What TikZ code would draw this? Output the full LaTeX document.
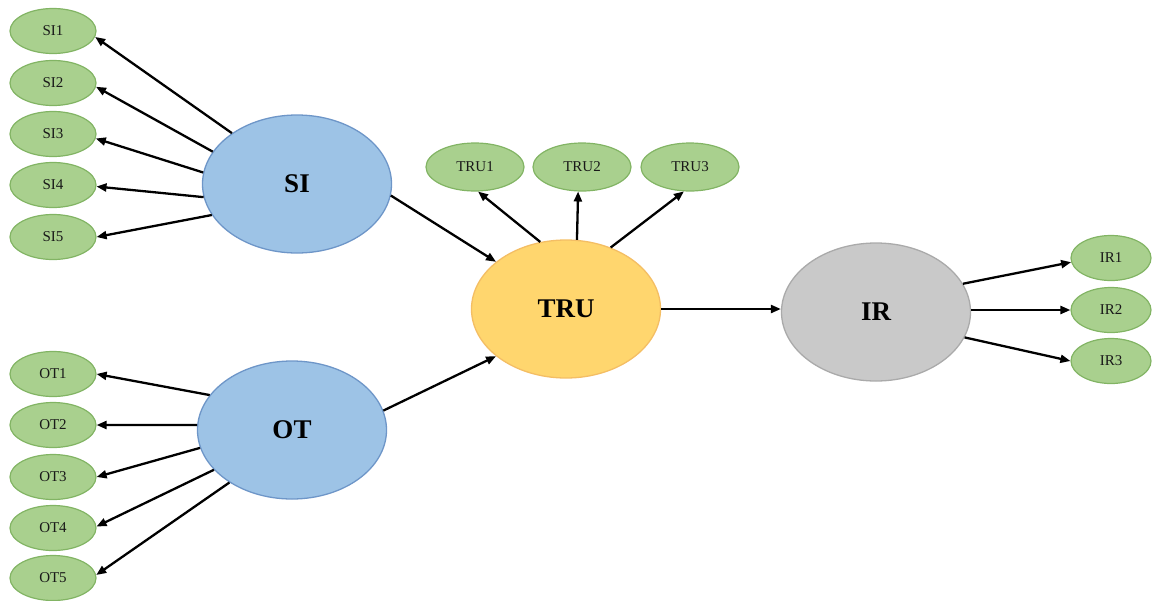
\documentclass[tikz,border=0pt]{standalone}
\usepackage{fontspec}
\setmainfont{Liberation Serif}
\usetikzlibrary{shapes.geometric,arrows.meta}
\definecolor{grfill}{RGB}{169,208,142}
\definecolor{grline}{RGB}{130,180,100}
\definecolor{blfill}{RGB}{157,195,230}
\definecolor{blline}{RGB}{110,150,200}
\definecolor{yefill}{RGB}{255,214,110}
\definecolor{yeline}{RGB}{244,190,100}
\definecolor{gyfill}{RGB}{201,201,201}
\definecolor{gyline}{RGB}{170,170,170}
\tikzset{
  item/.style={ellipse, draw=grline, fill=grfill, line width=1.2pt, inner sep=0pt,
    minimum width=86pt, minimum height=45pt, font=\fontsize{15}{15}\selectfont, text=black!90},
  latent/.style={ellipse, line width=1.3pt, inner sep=0pt,
    minimum width=189pt, minimum height=138pt, font=\fontsize{27}{27}\selectfont\bfseries},
  conn/.style={line width=2.3pt, -{Triangle[length=10pt,width=8pt]}}
}
\begin{document}
\begin{tikzpicture}[x=1pt,y=-1pt]
\useasboundingbox (0,0) rectangle (1153,600);
% latent constructs
\node[latent, draw=blline, fill=blfill] (SI) at (297,184) {SI};
\node[latent, draw=blline, fill=blfill] (OT) at (292,430) {OT};
\node[latent, draw=yeline, fill=yefill] (TRU) at (566,309) {TRU};
\node[latent, draw=gyline, fill=gyfill] (IR) at (876,312) {IR};
% SI indicators
\node[item] (SI1) at (53,31) {SI1};
\node[item] (SI2) at (53,83) {SI2};
\node[item] (SI3) at (53,134) {SI3};
\node[item] (SI4) at (53,185) {SI4};
\node[item] (SI5) at (53,237) {SI5};
% OT indicators
\node[item] (OT1) at (53,374) {OT1};
\node[item] (OT2) at (53,425) {OT2};
\node[item] (OT3) at (53,477) {OT3};
\node[item] (OT4) at (53,528) {OT4};
\node[item] (OT5) at (53,578) {OT5};
% TRU indicators
\node[item, minimum width=98pt, minimum height=48pt] (TRU1) at (475,167) {TRU1};
\node[item, minimum width=98pt, minimum height=48pt] (TRU2) at (582,167) {TRU2};
\node[item, minimum width=98pt, minimum height=48pt] (TRU3) at (690,167) {TRU3};
% IR indicators
\node[item, minimum width=80pt] (IR1) at (1111,258) {IR1};
\node[item, minimum width=80pt] (IR2) at (1111,310) {IR2};
\node[item, minimum width=80pt] (IR3) at (1111,361) {IR3};
% connectors
\draw[conn] (SI.142) -- (SI1.-8);
\draw[conn] (SI.159) -- (SI2.-5);
\draw[conn] (SI.173) -- (SI3.-6);
\draw[conn] (SI.188) -- (SI4.-2);
\draw[conn] (SI.200) -- (SI5.0);
\draw[conn] (OT.157) -- (OT1.0);
\draw[conn] (OT.177) -- (OT2.0);
\draw[conn] (OT.191) -- (OT3.0);
\draw[conn] (OT.207) -- (OT4.2);
\draw[conn] (OT.220) -- (OT5.4);
\draw[conn] (SI.-7) -- (TRU.146);
\draw[conn] (OT.12) -- (TRU.214);
\draw[conn] (TRU.111) -- (TRU1.-83);
\draw[conn] (TRU.81) -- (TRU2.-99);
\draw[conn] (TRU.54) -- (TRU3.-104);
\draw[conn] (TRU.east) -- (TRU.east -| IR.west);
\draw[conn] (IR.18) -- (IR1.186);
\draw[conn] (IR2.west -| IR.east) -- (IR2.west);
\draw[conn] (IR.-16) -- (IR3.180);
\end{tikzpicture}
\end{document}
